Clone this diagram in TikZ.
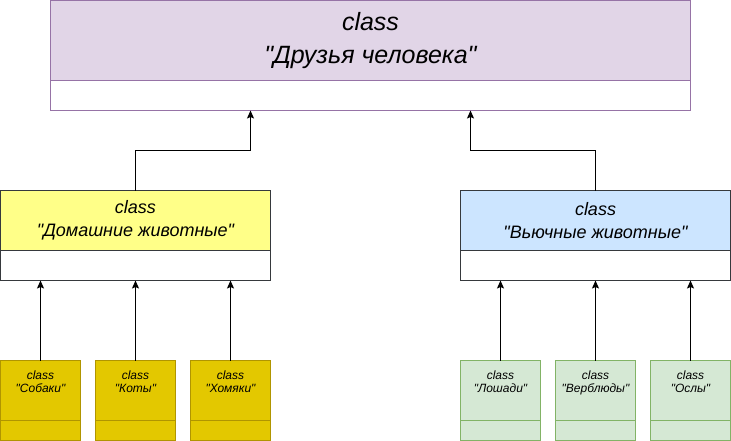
\documentclass[tikz,border=0pt]{standalone}
\usepackage{fontspec}
\setmainfont{Liberation Sans}[Ligatures=TeXOff]
\usepackage{xcolor}
\usetikzlibrary{arrows.meta}
\definecolor{lilacfill}{HTML}{E1D5E7}
\definecolor{lilacline}{HTML}{9673A6}
\definecolor{lemonfill}{HTML}{FFFF88}
\definecolor{skyfill}{HTML}{CCE5FF}
\definecolor{darkline}{HTML}{36393D}
\definecolor{goldfill}{HTML}{E3C800}
\definecolor{goldline}{HTML}{B09500}
\definecolor{sagefill}{HTML}{D5E8D4}
\definecolor{sageline}{HTML}{82B366}

\begin{document}
\begin{tikzpicture}[x=1pt, y=-1pt,
	box/.style={draw, shape=rectangle, anchor=north west, inner sep=0pt, outer sep=0pt, line width=1pt},
	bighead/.style={box, minimum width=640pt, minimum height=80pt, align=center, fill=lilacfill, draw=lilacline, font=\fontsize{25}{33}\selectfont\itshape},
	bigbody/.style={box, minimum width=640pt, minimum height=30pt, fill=white, draw=lilacline},
	midhead/.style={box, minimum width=270pt, minimum height=60pt, align=center, draw=darkline, font=\fontsize{18}{23}\selectfont\itshape},
	midbody/.style={box, minimum width=270pt, minimum height=30pt, fill=white, draw=darkline},
	smallhead/.style={box, minimum width=80pt, minimum height=60pt},
	smallbody/.style={box, minimum width=80pt, minimum height=20pt, fill=white},
	smalltext/.style={anchor=north, inner sep=0pt, align=center, font=\fontsize{12}{13}\selectfont\itshape},
	gold/.style={fill=goldfill, draw=goldline},
	sage/.style={fill=sagefill, draw=sageline},
	link/.style={line width=1pt, -{Stealth[length=8pt, width=7pt, inset=1.5pt]}}]
	\useasboundingbox (-0.5, -0.5) rectangle (730.5, 440.5);

	% top class
	\node [bighead] (friends) at (50, 0) {class\\"Друзья человека"};
	\node [bigbody] (friendsbody) at (50, 80) {};

	% middle classes
	\node [midhead, fill=lemonfill] (home) at (0, 190) {class\\"Домашние животные"};
	\node [midbody] (homebody) at (0, 250) {};
	\node [midhead, fill=skyfill] (pack) at (460, 190) {class\\"Вьючные животные"};
	\node [midbody] (packbody) at (460, 250) {};

	% small classes, left
	\node [smallhead, gold] (dogs) at (0, 360) {};
	\node [smallbody, gold] (dogsbody) at (0, 420) {};
	\node [smalltext] at ([yshift=-10pt]dogs.north) {class\\"Собаки"};
	\node [smallhead, gold] (cats) at (95, 360) {};
	\node [smallbody, gold] (catsbody) at (95, 420) {};
	\node [smalltext] at ([yshift=-10pt]cats.north) {class\\"Коты"};
	\node [smallhead, gold] (hams) at (190, 360) {};
	\node [smallbody, gold] (hamsbody) at (190, 420) {};
	\node [smalltext] at ([yshift=-10pt]hams.north) {class\\"Хомяки"};

	% small classes, right
	\node [smallhead, sage] (horses) at (460, 360) {};
	\node [smallbody, sage] (horsesbody) at (460, 420) {};
	\node [smalltext] at ([yshift=-10pt]horses.north) {class\\"Лошади"};
	\node [smallhead, sage] (camels) at (555, 360) {};
	\node [smallbody, sage] (camelsbody) at (555, 420) {};
	\node [smalltext] at ([yshift=-10pt]camels.north) {class\\"Верблюды"};
	\node [smallhead, sage] (donkeys) at (650, 360) {};
	\node [smallbody, sage] (donkeysbody) at (650, 420) {};
	\node [smalltext] at ([yshift=-10pt]donkeys.north) {class\\"Ослы"};

	% inheritance
	\draw [link] (home.north) -- ++(0, -40) -| ([xshift=-120pt]friendsbody.south);
	\draw [link] (pack.north) -- ++(0, -40) -| ([xshift=100pt]friendsbody.south);

	\draw [link] (dogs.north) -- (dogs.north |- homebody.south);
	\draw [link] (cats.north) -- (cats.north |- homebody.south);
	\draw [link] (hams.north) -- (hams.north |- homebody.south);
	\draw [link] (horses.north) -- (horses.north |- packbody.south);
	\draw [link] (camels.north) -- (camels.north |- packbody.south);
	\draw [link] (donkeys.north) -- (donkeys.north |- packbody.south);
\end{tikzpicture}
\end{document}
